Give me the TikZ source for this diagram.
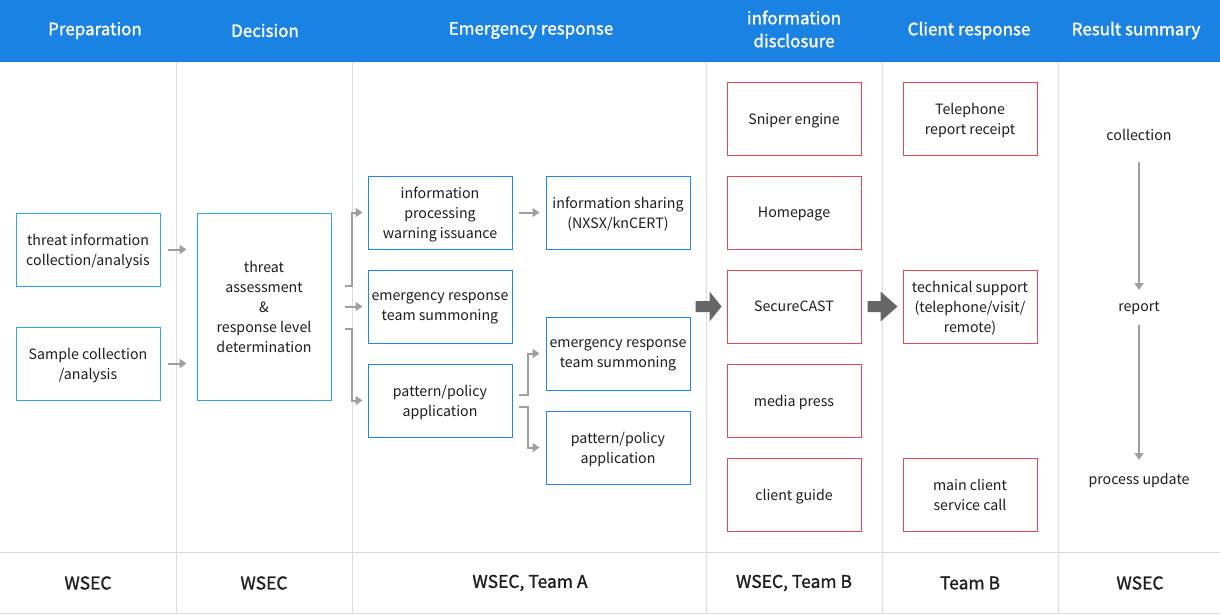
\documentclass[tikz,border=0pt]{standalone}
\usepackage{fontspec}
\setmainfont{Noto Sans CJK KR}
\newfontfamily\footfont{Noto Sans CJK KR}[FakeBold=1.2]
\newfontfamily\hdrfont{Noto Sans CJK KR}[FakeBold=1.6]
\usetikzlibrary{calc,arrows.meta}
\definecolor{hdrblue}{HTML}{1A82E2}
\definecolor{cyanbox}{HTML}{29ABE2}
\definecolor{bluebox}{HTML}{1E88E5}
\definecolor{redbox}{HTML}{E5484D}
\definecolor{divgray}{HTML}{DCDCDC}
\definecolor{arrgray}{HTML}{9E9E9E}
\definecolor{bigarrgray}{HTML}{666666}
\definecolor{txt}{HTML}{1E1E1E}
\begin{document}
\begin{tikzpicture}[x=1pt,y=-1pt,
  bodytext/.style={font=\fontsize{14.2}{20}\selectfont, text=txt, align=center},
  box/.style={bodytext, draw, line width=1pt, inner sep=0pt, minimum width=144pt, minimum height=73pt, text depth=0pt},
  cbox/.style={box, draw=cyanbox},
  bbox/.style={box, draw=bluebox},
  rbox/.style={box, draw=redbox, minimum width=134pt},
  hdr/.style={font=\fontsize{17}{23}\hdrfont, text=white, align=center},
  ftr/.style={font=\fontsize{17.5}{22}\footfont, text=txt},
  arr/.style={draw=arrgray, line width=2pt, -{Triangle[width=9pt,length=7pt]}},
  bigarr/.style={fill=bigarrgray},
  divider/.style={draw=divgray, line width=1pt}
]
\useasboundingbox (0,0) rectangle (1220,614);
\fill[white] (0,0) rectangle (1220,614);
% header
\fill[hdrblue] (0,0) rectangle (1220,62);
% dividers
\foreach \xx in {176,352,706,882,1058}
  \draw[divider] (\xx,62) -- (\xx,614);
\draw[divider] (0,552) -- (1220,552);
\draw[divider] (0,613) -- (1220,613);

% header texts
\node[hdr] (h1) at (95,30.5) {Preparation};
\node[hdr] (h2) at (265,30.5) {Decision};
\node[hdr] (h3) at (531,30.5) {Emergency response};
\node[hdr] (h4) at (794,29) {information\\disclosure};
\node[hdr] (h5) at (969,30.5) {Client response};
\node[hdr] (h6) at (1136,30.5) {Result summary};

% footer texts
\node[ftr] (f1) at (88,583) {WSEC};
\node[ftr] (f2) at (264,583) {WSEC};
\node[ftr] (f3) at (530,583) {WSEC, Team A};
\node[ftr] (f4) at (794,583) {WSEC, Team B};
\node[ftr] (f5) at (970,583) {Team B};
\node[ftr] (f6) at (1140,583) {WSEC};

% preparation
\node[cbox] (p1) at (88,249.5) {threat information\\collection/analysis};
\node[cbox] (p2) at (88,363.5) {Sample collection\\/analysis};
% decision
\node[cbox, minimum width=134pt, minimum height=187pt] (d) at (264,306.5) {threat\\assessment\\\&\\response level\\determination};
% emergency response
\node[bbox] (e1) at (440,212.5) {information\\processing\\warning issuance};
\node[bbox] (e2) at (440,306.5) {emergency response\\team summoning};
\node[bbox] (e3) at (440,400.5) {pattern/policy\\application};
\node[bbox] (s1) at (618,212.5) {information sharing\\(NXSX/knCERT)};
\node[bbox] (s2) at (618,353.5) {emergency response\\team summoning};
\node[bbox] (s3) at (618,447.5) {pattern/policy\\application};
% disclosure
\node[rbox] (r1) at (794,118.5) {Sniper engine};
\node[rbox] (r2) at (794,212.5) {Homepage};
\node[rbox] (r3) at (794,306.5) {SecureCAST};
\node[rbox] (r4) at (794,400.5) {media press};
\node[rbox] (r5) at (794,494.5) {client guide};
% client response
\node[rbox] (c1) at (970,118.5) {Telephone\\report receipt};
\node[rbox] (c2) at (970,306.5) {technical support\\(telephone/visit/\\remote)};
\node[rbox] (c3) at (970,494.5) {main client\\service call};
% result summary
\node[bodytext] (rs1) at (1139,135) {collection};
\node[bodytext] (rs2) at (1139,308) {report};
\node[bodytext] (rs3) at (1139,480) {process update};

% connectors
\draw[arr, shorten <=7pt, shorten >=10pt] (p1.east) -- (p1.east -| d.west);
\draw[arr, shorten <=7pt, shorten >=10pt] (p2.east) -- (p2.east -| d.west);

\draw[arr] ($(d.east)+(13,-20.5)$) -- ++(7,0) |- ([xshift=-5pt]e1.west);
\draw[arr] ($(d.east)+(13,0)$) -- ([xshift=-5pt]e2.west);
\draw[arr] ($(d.east)+(13,22.5)$) -- ++(7,0) |- ([xshift=-5pt]e3.west);

\draw[arr] ([xshift=6pt]e1.east) -- ([xshift=-6pt]s1.west);
\draw[arr] ($(e3.east)+(6,-5.5)$) -- ++(9,0) |- ([xshift=-6pt]s2.west);
\draw[arr] ($(e3.east)+(6,6.5)$) -- ++(9,0) |- ([xshift=-6pt]s3.west);

% big block arrows
\fill[bigarr] ($(r3.west)+(-31,-5.5)$) -- ++(14,0) -- ++(0,-9.5) -- ($(r3.west)+(-5,0)$)
  -- ($(r3.west)+(-17,15)$) -- ++(0,-9.5) -- ($(r3.west)+(-31,5.5)$) -- cycle;
\fill[bigarr] ($(r3.east)+(6,-5.5)$) -- ++(13,0) -- ++(0,-9.5) -- ($(c2.west)+(-5,0)$)
  -- ($(r3.east)+(19,15)$) -- ++(0,-9.5) -- ($(r3.east)+(6,5.5)$) -- cycle;

% result arrows
\draw[arr] ($(rs1)+(0,27)$) -- ($(rs2)+(0,-18)$);
\draw[arr] ($(rs2)+(0,17)$) -- ($(rs3)+(0,-20)$);
\end{tikzpicture}
\end{document}
